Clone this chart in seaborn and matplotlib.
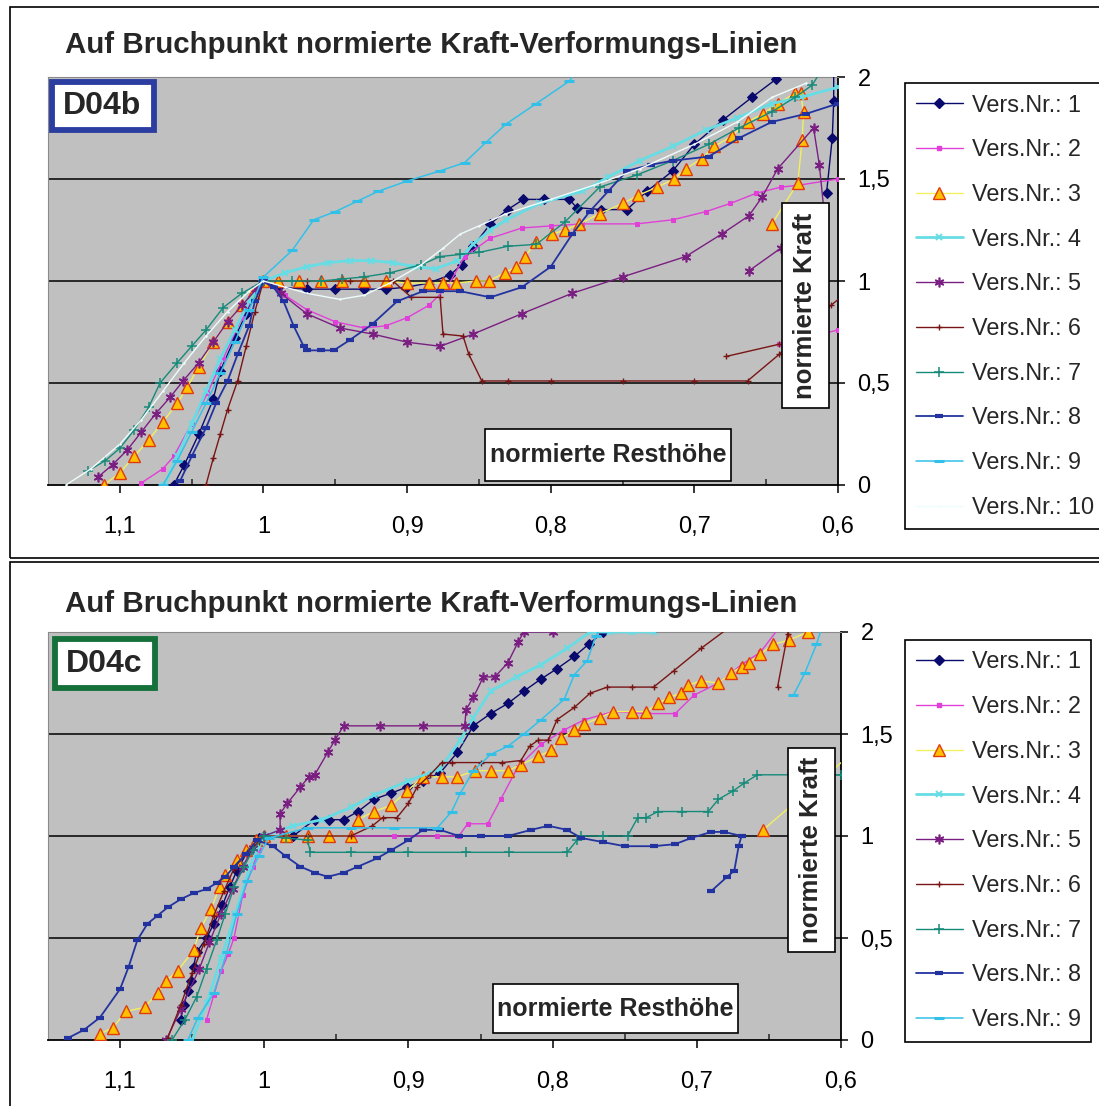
import matplotlib
matplotlib.use("Agg")
import numpy as np
import pandas as pd
import matplotlib.pyplot as plt
from matplotlib.lines import Line2D
from matplotlib.patches import Rectangle
import seaborn as sns

# ---------------------------------------------------------------- data
TITLE = "Auf Bruchpunkt normierte Kraft-Verformungs-Linien"
X_TICKS = [1.1, 1.0, 0.9, 0.8, 0.7, 0.6]
X_TICK_LABELS = ["1,1", "1", "0,9", "0,8", "0,7", "0,6"]
X_MINOR = [1.05, 0.95, 0.85, 0.75, 0.65]
Y_TICKS = [0, 0.5, 1, 1.5, 2]
Y_TICK_LABELS = ["0", "0,5", "1", "1,5", "2"]
LABELS_B = ["Vers.Nr.: %d" % i for i in range(1, 11)]
LABELS_C = ["Vers.Nr.: %d" % i for i in range(1, 10)]

# ---- D04b (top panel)
B1_X = [1.0625, 1.055, 1.045, 1.035, 1.03, 1.02, 1.012, 1.007, 1.0, 0.99, 0.97, 0.95, 0.93, 0.915, 0.90, 0.885,
        0.87, 0.862, 0.854, 0.842, 0.83, 0.819, 0.805, 0.787, 0.782, 0.765, 0.747, 0.733, 0.715, 0.70, 0.68, 0.66, 0.643, 0.63]
B1_Y = [0, 0.1, 0.25, 0.42, 0.56, 0.72, 0.84, 0.92, 1.0, 0.97, 0.96, 0.96, 0.96, 0.96, 0.97, 0.99,
        1.03, 1.08, 1.17, 1.28, 1.35, 1.40, 1.40, 1.40, 1.36, 1.35, 1.35, 1.44, 1.54, 1.67, 1.79, 1.90, 1.99, 2.06]
B1b_X = [0.603, 0.603, 0.604, 0.608]
B1b_Y = [2.05, 1.88, 1.70, 1.43]

B2_X = [1.085, 1.07, 1.0625, 1.05, 1.039, 1.028, 1.015, 1.005, 1.0, 0.985, 0.97, 0.95, 0.93, 0.915, 0.90, 0.885, 0.872,
        0.86, 0.842, 0.82, 0.80, 0.778, 0.74, 0.715, 0.692, 0.675, 0.657, 0.64, 0.627, 0.60, 0.59]
B2_Y = [0.01, 0.08, 0.14, 0.30, 0.45, 0.62, 0.82, 0.95, 1.0, 0.93, 0.86, 0.80, 0.77, 0.78, 0.82, 0.88, 0.97,
        1.12, 1.21, 1.26, 1.27, 1.28, 1.28, 1.30, 1.34, 1.38, 1.43, 1.46, 1.47, 1.50, 1.51]
B2b_X = [0.641, 0.60, 0.59]
B2b_Y = [0.69, 0.76, 0.77]

B3_X = [1.111, 1.10, 1.09, 1.08, 1.07, 1.06, 1.053, 1.045, 1.035, 1.025, 1.015, 1.007, 1.0, 0.99, 0.975, 0.96, 0.945,
        0.93, 0.915, 0.90, 0.885, 0.875, 0.866, 0.852, 0.843, 0.832, 0.824, 0.818, 0.81, 0.799, 0.79, 0.78, 0.766, 0.75,
        0.739, 0.726, 0.714, 0.706, 0.695, 0.686, 0.674, 0.663, 0.652, 0.642, 0.63, 0.626, 0.624, 0.625, 0.628, 0.646]
B3_Y = [0, 0.06, 0.14, 0.22, 0.31, 0.40, 0.48, 0.58, 0.70, 0.80, 0.88, 0.94, 1.0, 1.0, 1.0, 1.0, 1.0,
        1.0, 1.0, 0.99, 0.99, 0.99, 0.99, 1.0, 1.0, 1.04, 1.07, 1.12, 1.19, 1.23, 1.25, 1.28, 1.33, 1.38,
        1.42, 1.46, 1.50, 1.55, 1.60, 1.66, 1.71, 1.78, 1.82, 1.87, 1.92, 1.92, 1.83, 1.69, 1.48, 1.28]

B4_X = [1.069, 1.06, 1.05, 1.04, 1.03, 1.02, 1.01, 1.0, 0.985, 0.97, 0.955, 0.94, 0.925, 0.91, 0.895, 0.88, 0.865,
        0.854, 0.842, 0.831, 0.808, 0.778, 0.76, 0.738, 0.715, 0.692, 0.67, 0.646, 0.626, 0.60]
B4_Y = [0, 0.14, 0.30, 0.46, 0.62, 0.76, 0.90, 1.0, 1.04, 1.07, 1.09, 1.10, 1.10, 1.09, 1.07, 1.06, 1.10,
        1.18, 1.25, 1.30, 1.38, 1.44, 1.51, 1.59, 1.66, 1.74, 1.80, 1.87, 1.90, 1.95]

B5_X = [1.115, 1.105, 1.095, 1.085, 1.075, 1.065, 1.056, 1.045, 1.035, 1.025, 1.015, 1.005, 1.0, 0.988, 0.97, 0.947,
        0.924, 0.90, 0.877, 0.854, 0.82, 0.785, 0.75, 0.706, 0.681, 0.662, 0.653, 0.642, 0.617, 0.613, 0.61]
B5_Y = [0.04, 0.10, 0.17, 0.26, 0.35, 0.43, 0.51, 0.60, 0.70, 0.80, 0.88, 0.96, 1.0, 0.94, 0.84, 0.77,
        0.74, 0.70, 0.68, 0.74, 0.84, 0.94, 1.02, 1.12, 1.23, 1.32, 1.41, 1.55, 1.75, 1.57, 1.36]
B5b_X = [0.662, 0.64]
B5b_Y = [1.05, 1.16]

B6_X = [1.04, 1.035, 1.03, 1.025, 1.018, 1.012, 1.006, 1.0, 0.97, 0.94, 0.91, 0.897, 0.877, 0.875, 0.861, 0.857,
        0.848, 0.83, 0.80, 0.75, 0.70, 0.663, 0.641, 0.605, 0.593]
B6_Y = [0, 0.13, 0.25, 0.37, 0.51, 0.68, 0.85, 1.0, 1.0, 1.0, 1.0, 0.92, 0.92, 0.74, 0.73, 0.64,
        0.51, 0.51, 0.51, 0.51, 0.51, 0.51, 0.64, 0.88, 0.95]
B6b_X = [0.678, 0.641]
B6b_Y = [0.63, 0.69]

B7_X = [1.122, 1.11, 1.10, 1.09, 1.08, 1.072, 1.06, 1.05, 1.04, 1.028, 1.015, 1.0, 0.98, 0.96, 0.945, 0.93, 0.912,
        0.89, 0.877, 0.863, 0.85, 0.83, 0.81, 0.79, 0.766, 0.74, 0.715, 0.69, 0.669, 0.646, 0.63, 0.618, 0.61]
B7_Y = [0.07, 0.12, 0.18, 0.27, 0.38, 0.50, 0.60, 0.68, 0.76, 0.87, 0.94, 1.0, 1.0, 1.0, 1.01, 1.02, 1.04,
        1.08, 1.12, 1.13, 1.14, 1.17, 1.18, 1.29, 1.46, 1.52, 1.59, 1.67, 1.75, 1.83, 1.90, 1.96, 2.05]

B8_X = [1.058, 1.05, 1.04, 1.033, 1.025, 1.018, 1.01, 1.006, 1.0, 0.993, 0.986, 0.979, 0.972, 0.97, 0.96, 0.951,
        0.94, 0.924, 0.907, 0.889, 0.877, 0.863, 0.842, 0.82, 0.80, 0.785, 0.773, 0.76, 0.747, 0.73, 0.715, 0.69,
        0.669, 0.646, 0.622, 0.60]
B8_Y = [0.02, 0.14, 0.28, 0.40, 0.51, 0.64, 0.78, 0.90, 1.0, 0.97, 0.90, 0.78, 0.68, 0.66, 0.66, 0.66,
        0.71, 0.79, 0.90, 0.95, 0.95, 0.95, 0.92, 0.97, 1.07, 1.23, 1.34, 1.44, 1.54, 1.57, 1.59, 1.61,
        1.70, 1.78, 1.82, 1.87]

B9_X = [1.07, 1.06, 1.05, 1.04, 1.03, 1.02, 1.01, 1.0, 0.98, 0.965, 0.95, 0.935, 0.92, 0.9, 0.877, 0.86, 0.845,
        0.831, 0.81, 0.787, 0.78]
B9_Y = [0.0, 0.12, 0.26, 0.40, 0.55, 0.70, 0.86, 1.02, 1.15, 1.30, 1.34, 1.39, 1.44, 1.49, 1.54, 1.58, 1.68,
        1.77, 1.87, 1.98, 2.05]

B10_X = [1.1375, 1.12, 1.10, 1.085, 1.07, 1.055, 1.04, 1.025, 1.01, 1.0, 0.985, 0.97, 0.947, 0.93, 0.912, 0.89,
         0.875, 0.863, 0.85, 0.831, 0.80, 0.77, 0.738, 0.70, 0.67, 0.646, 0.622]
B10_Y = [0.0, 0.08, 0.20, 0.32, 0.46, 0.60, 0.73, 0.85, 0.95, 1.0, 0.97, 0.94, 0.91, 0.93, 0.99, 1.08,
         1.16, 1.23, 1.27, 1.33, 1.40, 1.47, 1.55, 1.67, 1.78, 1.90, 1.97]

# ---- D04c (bottom panel)
C1_X = [1.058, 1.056, 1.053, 1.051, 1.049, 1.047, 1.04, 1.035, 1.029, 1.024, 1.019, 1.012, 1.004, 1.0, 0.98, 0.965,
        0.955, 0.945, 0.935, 0.924, 0.912, 0.901, 0.89, 0.878, 0.866, 0.855, 0.843, 0.831, 0.82, 0.808, 0.797,
        0.785, 0.775, 0.765]
C1_Y = [0.10, 0.17, 0.24, 0.29, 0.36, 0.43, 0.50, 0.57, 0.66, 0.75, 0.83, 0.92, 0.99, 1.0, 1.0, 1.08,
        1.08, 1.08, 1.12, 1.18, 1.21, 1.24, 1.27, 1.31, 1.41, 1.54, 1.60, 1.65, 1.71, 1.77, 1.82,
        1.88, 1.94, 2.0]

C2_X = [1.04, 1.035, 1.03, 1.025, 1.021, 1.015, 1.008, 1.004, 1.0, 0.97, 0.94, 0.91, 0.88, 0.865, 0.859, 0.845,
        0.836, 0.824, 0.808, 0.792, 0.778, 0.758, 0.734, 0.715, 0.702, 0.685, 0.669, 0.656, 0.642]
C2_Y = [0.10, 0.22, 0.34, 0.42, 0.50, 0.71, 0.85, 0.93, 1.0, 1.0, 1.0, 1.0, 1.0, 1.0, 1.06, 1.06,
        1.18, 1.34, 1.45, 1.52, 1.57, 1.61, 1.60, 1.60, 1.69, 1.75, 1.84, 1.90, 2.03]

C3_X = [1.114, 1.105, 1.096, 1.083, 1.074, 1.068, 1.06, 1.049, 1.044, 1.037, 1.031, 1.027, 1.019, 1.013, 1.006,
        1.0, 0.985, 0.97, 0.955, 0.94, 0.935, 0.924, 0.912, 0.901, 0.89, 0.877, 0.866, 0.854, 0.843, 0.831, 0.822,
        0.81, 0.801, 0.794, 0.785, 0.778, 0.767, 0.758, 0.745, 0.735, 0.727, 0.719, 0.711, 0.706, 0.697, 0.685,
        0.676, 0.669, 0.664, 0.656, 0.647, 0.636, 0.623, 0.60]
C3_Y = [0.03, 0.06, 0.14, 0.16, 0.23, 0.29, 0.34, 0.44, 0.55, 0.64, 0.75, 0.81, 0.88, 0.93, 0.98,
        1.0, 1.0, 1.0, 1.0, 1.0, 1.08, 1.12, 1.15, 1.22, 1.29, 1.29, 1.29, 1.32, 1.32, 1.32, 1.35,
        1.39, 1.42, 1.48, 1.52, 1.55, 1.58, 1.61, 1.61, 1.61, 1.65, 1.68, 1.70, 1.74, 1.76, 1.75,
        1.80, 1.83, 1.85, 1.89, 1.94, 1.96, 2.0, 2.1]
C3b_X = [0.654, 0.59]
C3b_Y = [1.03, 1.42]

C4_X = [1.05, 1.04, 1.03, 1.02, 1.01, 1.0, 0.98, 0.96, 0.94, 0.924, 0.90, 0.878, 0.864, 0.855, 0.843, 0.825,
        0.808, 0.79, 0.774, 0.76, 0.745, 0.73]
C4_Y = [0.0, 0.18, 0.40, 0.62, 0.85, 1.0, 1.05, 1.08, 1.14, 1.20, 1.27, 1.33, 1.47, 1.58, 1.71, 1.78,
        1.84, 1.92, 2.0, 2.0, 2.0, 2.0]

C5_X = [1.068, 1.058, 1.045, 1.038, 1.03, 1.022, 1.015, 1.008, 1.0, 0.989, 0.989, 0.984, 0.975, 0.969, 0.965, 0.956,
        0.951, 0.945, 0.92, 0.89, 0.861, 0.86, 0.855, 0.848, 0.84, 0.831, 0.824, 0.82, 0.80]
C5_Y = [0.0, 0.15, 0.35, 0.48, 0.62, 0.74, 0.85, 0.94, 1.0, 1.03, 1.11, 1.16, 1.24, 1.29, 1.30, 1.41,
        1.47, 1.54, 1.54, 1.54, 1.54, 1.62, 1.68, 1.78, 1.78, 1.85, 1.95, 2.0, 2.0]

C6_X = [1.067, 1.058, 1.05, 1.042, 1.035, 1.028, 1.021, 1.012, 1.004, 1.0, 0.97, 0.94, 0.925, 0.918, 0.908, 0.9,
        0.894, 0.885, 0.877, 0.87, 0.85, 0.835, 0.822, 0.816, 0.81, 0.803, 0.797, 0.785, 0.774, 0.762, 0.745,
        0.73, 0.716, 0.697, 0.678, 0.67]
C6_Y = [0.01, 0.17, 0.33, 0.47, 0.61, 0.73, 0.84, 0.92, 0.97, 1.0, 1.0, 1.0, 1.05, 1.09, 1.09, 1.16,
        1.24, 1.30, 1.36, 1.36, 1.36, 1.36, 1.37, 1.44, 1.47, 1.47, 1.57, 1.63, 1.70, 1.73, 1.73,
        1.73, 1.81, 1.92, 2.02, 2.06]
C6b_X = [0.644, 0.637, 0.635]
C6b_Y = [1.73, 1.99, 2.05]

C7_X = [1.064, 1.055, 1.047, 1.04, 1.033, 1.027, 1.021, 1.014, 1.008, 1.0, 0.985, 0.97, 0.968, 0.94, 0.90, 0.86,
        0.83, 0.79, 0.783, 0.78, 0.765, 0.748, 0.741, 0.735, 0.727, 0.71, 0.692, 0.685, 0.675, 0.667, 0.658,
        0.63, 0.60]
C7_Y = [0.0, 0.10, 0.21, 0.35, 0.49, 0.62, 0.75, 0.85, 0.93, 1.0, 0.99, 0.98, 0.92, 0.92, 0.92, 0.92,
        0.92, 0.92, 0.98, 1.0, 1.0, 1.0, 1.09, 1.09, 1.12, 1.12, 1.12, 1.18, 1.22, 1.26, 1.30,
        1.30, 1.30]

C8_X = [1.136, 1.125, 1.114, 1.10, 1.094, 1.088, 1.081, 1.074, 1.067, 1.058, 1.049, 1.04, 1.033, 1.027, 1.021,
        1.013, 1.005, 0.994, 0.985, 0.975, 0.965, 0.956, 0.945, 0.935, 0.922, 0.912, 0.90, 0.89, 0.878, 0.865,
        0.85, 0.831, 0.815, 0.803, 0.79, 0.78, 0.765, 0.75, 0.73, 0.715, 0.704, 0.69, 0.681, 0.669, 0.671,
        0.674, 0.679, 0.69]
C8_Y = [0.01, 0.05, 0.11, 0.25, 0.36, 0.49, 0.57, 0.61, 0.65, 0.69, 0.72, 0.74, 0.77, 0.80, 0.85,
        0.91, 0.98, 0.95, 0.90, 0.85, 0.82, 0.80, 0.82, 0.85, 0.89, 0.93, 0.98, 1.03, 1.03, 1.0,
        1.0, 1.0, 1.03, 1.05, 1.03, 0.99, 0.97, 0.95, 0.95, 0.96, 0.99, 1.02, 1.02, 1.0, 0.95,
        0.83, 0.80, 0.73]

C9_X = [1.053, 1.046, 1.035, 1.026, 1.019, 1.012, 1.004, 0.997, 0.97, 0.94, 0.91, 0.88, 0.87, 0.864, 0.855, 0.843,
        0.831, 0.82, 0.808, 0.792, 0.785, 0.776, 0.77, 0.765]
C9_Y = [0.0, 0.11, 0.23, 0.43, 0.62, 0.78, 0.90, 0.99, 1.04, 1.04, 1.04, 1.04, 1.12, 1.21, 1.32, 1.40,
        1.44, 1.50, 1.57, 1.67, 1.79, 1.86, 1.98, 2.05]
C9b_X = [0.633, 0.625, 0.617, 0.612]
C9b_Y = [1.69, 1.80, 1.94, 2.05]

SERIES_B = [
    [(B1_X, B1_Y), (B1b_X, B1b_Y)],
    [(B2_X, B2_Y), (B2b_X, B2b_Y)],
    [(B3_X, B3_Y)],
    [(B4_X, B4_Y)],
    [(B5_X, B5_Y), (B5b_X, B5b_Y)],
    [(B6_X, B6_Y), (B6b_X, B6b_Y)],
    [(B7_X, B7_Y)],
    [(B8_X, B8_Y)],
    [(B9_X, B9_Y)],
    [(B10_X, B10_Y)],
]
SERIES_C = [
    [(C1_X, C1_Y)],
    [(C2_X, C2_Y)],
    [(C3_X, C3_Y), (C3b_X, C3b_Y)],
    [(C4_X, C4_Y)],
    [(C5_X, C5_Y)],
    [(C6_X, C6_Y), (C6b_X, C6b_Y)],
    [(C7_X, C7_Y)],
    [(C8_X, C8_Y)],
    [(C9_X, C9_Y), (C9b_X, C9b_Y)],
]

# ---------------------------------------------------------------- styles
STYLES = [
    dict(color="#0a0a6e", marker="D", markersize=5, markerfacecolor="#0a0a6e", markeredgecolor="#0a0a6e", linewidth=1.0),
    dict(color="#e040d8", marker="s", markersize=2.2, markerfacecolor="#e040d8", markeredgecolor="#e040d8", linewidth=1.0),
    dict(color="#f2f060", marker="^", markersize=8, markerfacecolor="#ffc000", markeredgecolor="#e23a10", markeredgewidth=1.0, linewidth=1.0),
    dict(color="#66dde4", marker="x", markersize=5, markerfacecolor="#66dde4", markeredgecolor="#66dde4", markeredgewidth=1.4, linewidth=2.0),
    dict(color="#7a1e82", marker=(6, 2, 0), markersize=7, markerfacecolor="#7a1e82", markeredgecolor="#7a1e82", markeredgewidth=1.2, linewidth=1.0),
    dict(color="#7a1515", marker="+", markersize=5, markerfacecolor="#7a1515", markeredgecolor="#7a1515", markeredgewidth=1.0, linewidth=1.0),
    dict(color="#168a7a", marker="+", markersize=7, markerfacecolor="#168a7a", markeredgecolor="#168a7a", markeredgewidth=1.1, linewidth=1.0),
    dict(color="#2233a0", marker="_", markersize=6, markerfacecolor="#2233a0", markeredgecolor="#2233a0", markeredgewidth=3, linewidth=1.3),
    dict(color="#33c0e8", marker="_", markersize=7, markerfacecolor="#33c0e8", markeredgecolor="#33c0e8", markeredgewidth=2.2, linewidth=1.1),
    dict(color="#eefcfc", marker=".", markersize=2, markerfacecolor="#eefcfc", markeredgecolor="#eefcfc", linewidth=1.0),
]

W, H = 1099, 1106

sns.set_style("white")
plt.rcParams["font.family"] = ["Liberation Sans", "DejaVu Sans"]

fig = plt.figure(figsize=(W / 100, H / 100), dpi=100)
fig.patch.set_facecolor("white")


def fx(px):
    return px / W


def fy(py):
    return 1 - py / H


ax_b = fig.add_axes([fx(48), fy(485), (838 - 48) / W, 408 / H])
ax_c = fig.add_axes([fx(48), fy(1040), (841 - 48) / W, 408 / H])


def draw_panel(ax, series, labels):
    handles = []
    for i, segs in enumerate(series):
        frames = []
        for k, (xs, ys) in enumerate(segs):
            frames.append(pd.DataFrame({"x": xs, "y": ys, "seg": k}))
        df = pd.concat(frames, ignore_index=True)
        st = STYLES[i]
        sns.lineplot(data=df, x="x", y="y", units="seg", estimator=None, sort=False,
                     ax=ax, legend=False, zorder=3 + 0.01 * i, **st)
        handles.append(Line2D([], [], **st))
    ax.set_facecolor("#c0c0c0")
    ax.set_xlim(1.15, 0.6)
    ax.set_ylim(0, 2)
    ax.set_xticks(X_TICKS)
    ax.set_xticklabels(X_TICK_LABELS)
    ax.set_xticks(X_MINOR, minor=True)
    ax.set_yticks(Y_TICKS)
    ax.set_yticklabels(Y_TICK_LABELS)
    ax.yaxis.tick_right()
    ax.set_xlabel("")
    ax.set_ylabel("")
    ax.tick_params(axis="x", which="major", direction="out", length=6, width=1.1, pad=16,
                   labelsize=17, colors="black", bottom=True)
    ax.tick_params(axis="x", which="minor", direction="in", length=4, width=1.1, bottom=True)
    ax.tick_params(axis="y", which="major", direction="out", length=5, width=1.1, pad=9,
                   labelsize=17, colors="black", right=True, left=False)
    ax.grid(axis="y", color="black", linewidth=1.1)
    ax.set_axisbelow(True)
    gl = ax.get_ygridlines()
    gl[0].set_visible(False)
    gl[-1].set_visible(False)
    for side in ["left", "top"]:
        ax.spines[side].set_color("#8a8a8a")
        ax.spines[side].set_linewidth(0.8)
    for side in ["right", "bottom"]:
        ax.spines[side].set_color("black")
        ax.spines[side].set_linewidth(1.3)
    return handles


hb = draw_panel(ax_b, SERIES_B, LABELS_B)
hc = draw_panel(ax_c, SERIES_C, LABELS_C)

leg_kw = dict(loc="upper left", bbox_transform=fig.transFigure, borderaxespad=0, frameon=True,
              fancybox=False, edgecolor="black", framealpha=1, fontsize=16.8, handlelength=2.05,
              handletextpad=0.35, labelspacing=0.93, borderpad=0.45)
lb = ax_b.legend(hb, LABELS_B, bbox_to_anchor=(fx(905), fy(83)), **leg_kw)
lc = ax_c.legend(hc, LABELS_C, bbox_to_anchor=(fx(905), fy(640)), **leg_kw)
for lg in (lb, lc):
    lg.get_frame().set_linewidth(1.2)
    lg.set_zorder(10)

# panel frames
fig.add_artist(Rectangle((fx(10), fy(558)), fx(1120) - fx(10), fy(7) - fy(558),
                         transform=fig.transFigure, fill=False, edgecolor="black", linewidth=1.2))
fig.add_artist(Rectangle((fx(10), fy(1130)), fx(1120) - fx(10), fy(562) - fy(1130),
                         transform=fig.transFigure, fill=False, edgecolor="black", linewidth=1.2))

# titles
fig.text(fx(65), fy(53), TITLE, fontsize=21.25, fontweight="bold", ha="left", va="baseline")
fig.text(fx(65), fy(612), TITLE, fontsize=21.25, fontweight="bold", ha="left", va="baseline")


def box(l, t, r, b, ec, lw):
    fig.add_artist(Rectangle((fx(l), fy(b)), fx(r) - fx(l), fy(t) - fy(b), transform=fig.transFigure,
                             facecolor="white", edgecolor=ec, linewidth=lw, zorder=5))


# D04b / D04c labels
box(52, 82, 154, 130, "#2b3da0", 4.2)
fig.text(fx(102), fy(106), "D04b", fontsize=23, fontweight="bold", ha="center", va="center", zorder=6)
box(55, 639, 155, 688, "#15703a", 4.2)
fig.text(fx(104), fy(664), "D04c", fontsize=23, fontweight="bold", ha="center", va="center", zorder=6)

# axis title boxes
box(485, 429, 731, 481, "black", 1.2)
fig.text(fx(608), fy(455), "normierte Resthöhe", fontsize=18, fontweight="bold", ha="center", va="center", zorder=6)
box(493, 984, 738, 1033, "black", 1.2)
fig.text(fx(615.5), fy(1008.5), "normierte Resthöhe", fontsize=18, fontweight="bold", ha="center", va="center", zorder=6)
box(782, 203, 829, 408, "black", 1.2)
fig.text(fx(805.5), fy(305.5), "normierte Kraft", fontsize=18.5, fontweight="bold", ha="center", va="center",
         rotation=90, zorder=6)
box(788, 748, 835, 952, "black", 1.2)
fig.text(fx(811.5), fy(850), "normierte Kraft", fontsize=18.5, fontweight="bold", ha="center", va="center",
         rotation=90, zorder=6)

fig.savefig("out.png", dpi=100)
